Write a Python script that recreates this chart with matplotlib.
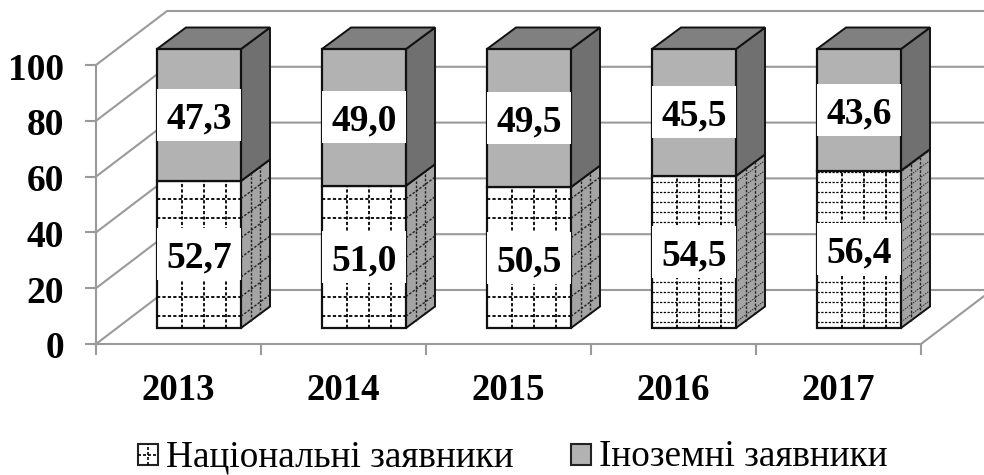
import matplotlib
matplotlib.use('Agg')
import matplotlib.pyplot as plt
import numpy as np
from matplotlib.legend_handler import HandlerBase
from matplotlib.lines import Line2D
from matplotlib.patches import Patch, Rectangle
from matplotlib.transforms import ScaledTranslation

years = ['2013', '2014', '2015', '2016', '2017']
national = [52.7, 51.0, 50.5, 54.5, 56.4]
foreign = [47.3, 49.0, 49.5, 45.5, 43.6]
y_ticks = [0, 20, 40, 60, 80, 100]
series_names = ['Національні заявники', 'Іноземні заявники']

GRID = '#9a9a9a'
DOTS = (0, (1.8, 1.2))
plt.rcParams['font.family'] = ['Liberation Serif', 'DejaVu Serif']

W, H = 984, 475
fig = plt.figure(figsize=(W / 100, H / 100), dpi=100)
ax = fig.add_axes([96 / W, (H - 344) / H, 825 / W, 279 / H])
ax.set_xlim(0, 5)
ax.set_ylim(0, 100)

# pixel sizes in data units
px = 5 / 825
py = 100 / 279

# back wall and floor
wall_x, wall_y = 71 * px, 54 * py
for t in y_ticks:
    ax.plot([0, wall_x, 5 + wall_x], [t, t + wall_y, t + wall_y], color=GRID, lw=1.5, clip_on=False, zorder=1)
ax.plot([5, 5 + wall_x], [0, wall_y], color=GRID, lw=1.5, clip_on=False, zorder=1)

# bars sit in front of the wall, a bit above the front axis line
shift_x, shift_y = 20.5 * px, 16 * py
depth_x, depth_y = 29 * px, 21.5 * py
bar_w = 84 * px
box_h = 52 * py


def side_face(x, y0, y1, color):
    xs = [x, x + depth_x, x + depth_x, x]
    ys = [y0, y0 + depth_y, y1 + depth_y, y1]
    ax.fill(xs, ys, facecolor=color, edgecolor='#111111', lw=1.4, clip_on=False, zorder=3)


for i, year in enumerate(years):
    cx = i + 0.5 + shift_x
    left, right = cx - bar_w / 2, cx + bar_w / 2
    n, f = national[i], foreign[i]
    base = shift_y
    mid = base + n
    top = mid + f

    side_face(right, base, mid, '#a4a4a4')
    side_face(right, mid, top, '#707070')
    ax.fill([left, left + depth_x, right + depth_x, right],
            [top, top + depth_y, top + depth_y, top],
            facecolor='#808080', edgecolor='#111111', lw=1.4, clip_on=False, zorder=3)

    ax.bar(cx, n, bar_w, bottom=base, color='white', edgecolor='#111111', lw=1.6, zorder=4, clip_on=False)
    ax.bar(cx, f, bar_w, bottom=mid, color='#b2b2b2', edgecolor='#111111', lw=1.6, zorder=4, clip_on=False)

    # dotted grid fill of the lower part, finer in the last two years
    step = 19.6 if i < 3 else 10
    row_lw = 1.3 if i < 3 else 0.9
    rows = np.arange(base + step * 0.6 * py, mid, step * py)
    cols = left + np.array([25, 47, 69]) * px
    ax.hlines(rows, left, right, color='black', lw=row_lw, linestyles=[DOTS], zorder=5)
    ax.vlines(cols, base, mid, color='black', lw=1.3, linestyles=[DOTS], zorder=5)
    for r in rows:
        ax.plot([right, right + depth_x], [r, r + depth_y], color='#222222', lw=row_lw - 0.3, ls=DOTS, clip_on=False, zorder=5)
    for frac in (1 / 3, 2 / 3):
        ax.plot([right + depth_x * frac] * 2, [base + depth_y * frac, mid + depth_y * frac],
                color='#222222', lw=1.0, ls=DOTS, clip_on=False, zorder=5)

    # white value labels, centred in each part
    for value, y0 in ((n, base), (f, mid)):
        yc = y0 + value / 2
        ax.add_patch(Rectangle((left, yc - box_h / 2), bar_w, box_h, fc='white', ec='none', zorder=6, clip_on=False))
        ax.text(cx, yc, f'{value:.1f}'.replace('.', ','), ha='center', va='center_baseline',
                fontsize=27, fontweight='bold', zorder=7)

# axes
for side in ('top', 'right'):
    ax.spines[side].set_visible(False)
for side in ('left', 'bottom'):
    ax.spines[side].set_color(GRID)
    ax.spines[side].set_linewidth(1.5)
ax.patch.set_visible(False)
ax.set_yticks(y_ticks)
ax.set_xticks(range(6))
ax.set_xticklabels([])
ax.set_xticks(np.arange(5) + 0.5, years, minor=True)
ax.tick_params(axis='both', which='major', color=GRID, width=1.5, length=8)
ax.tick_params(axis='y', labelsize=27, pad=15)
ax.tick_params(axis='x', which='minor', length=0, labelsize=26.5, pad=21)
down = ScaledTranslation(0, -5 / 100, fig.dpi_scale_trans)
for tick in ax.yaxis.get_major_ticks():
    tick.label1.set_fontweight('bold')
    tick.label1.set_verticalalignment('center')
    tick.label1.set_transform(tick.label1.get_transform() + down)
for lab in ax.get_xticklabels(minor=True):
    lab.set_fontweight('bold')


class SwatchHandler(HandlerBase):
    def create_artists(self, legend, orig, xd, yd, width, height, fontsize, trans):
        y0 = -yd - 1.5
        box = Rectangle((-xd, y0), width, height, fc=orig.get_facecolor(), ec='#222222', lw=1.5, transform=trans)
        arts = [box]
        if orig.get_hatch():
            arts.append(Line2D([-xd, -xd + width], [y0 + height / 2] * 2, color='black', lw=1.2, ls=DOTS, transform=trans))
            arts.append(Line2D([-xd + width / 2] * 2, [y0, y0 + height], color='black', lw=1.2, ls=DOTS, transform=trans))
        return arts


handles = [Patch(facecolor='white', hatch='+', label=series_names[0]),
           Patch(facecolor='#b2b2b2', label=series_names[1])]
fig.legend(handles=handles, handler_map={Patch: SwatchHandler()}, loc='lower left',
           bbox_to_anchor=(138 / W, 1 / H), bbox_transform=fig.transFigure, ncol=2, frameon=False,
           fontsize=26.8, handlelength=0.54, handleheight=0.5, handletextpad=0.2,
           columnspacing=1.56, borderpad=0, borderaxespad=0)

fig.savefig('out.png', dpi=100)
